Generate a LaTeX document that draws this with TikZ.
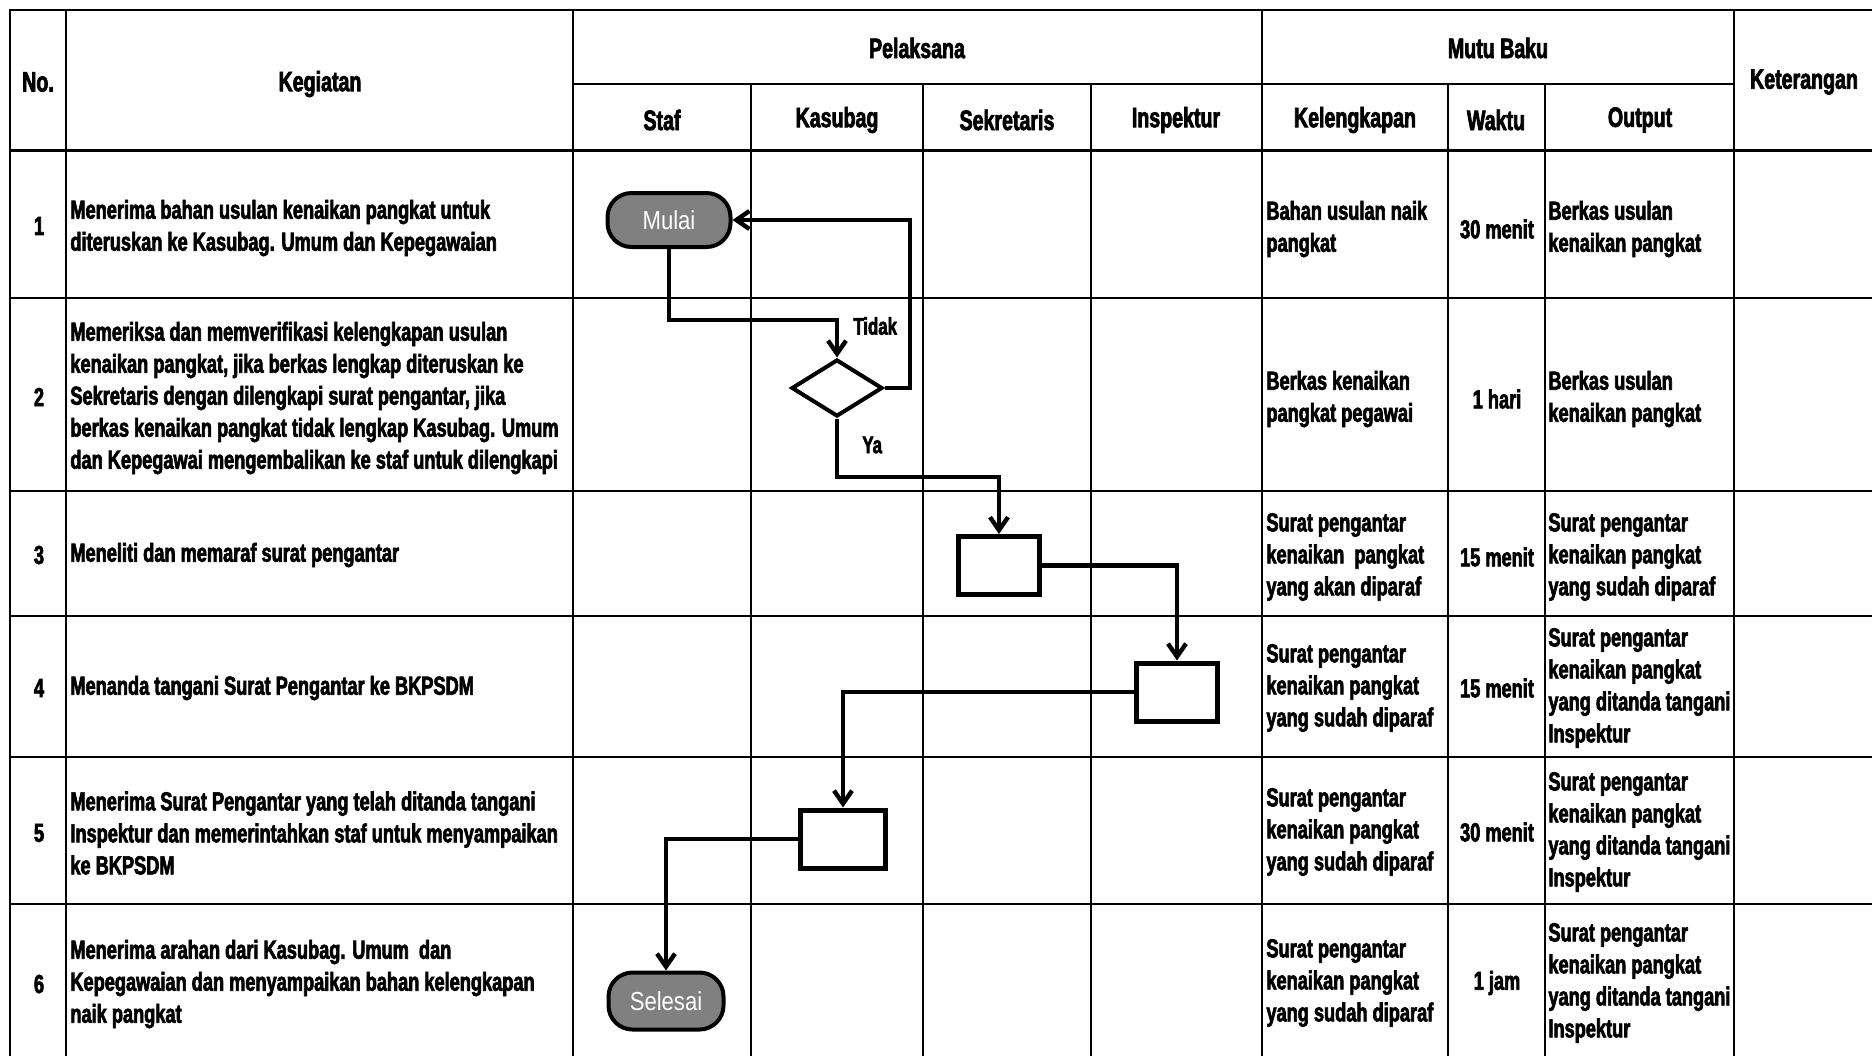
\documentclass[tikz,border=0pt]{standalone}
\usepackage{fontspec}
\setmainfont{Liberation Sans}[FakeStretch=0.7, BoldFeatures={FakeBold=2.5}]
\newfontfamily\lblfont{Liberation Sans}[FakeStretch=0.85]
\usetikzlibrary{arrows.meta,shapes.geometric}
\definecolor{termgray}{RGB}{128,128,128}
\begin{document}
\begin{tikzpicture}[x=0.5pt,y=-0.5pt,
  grid/.style={line width=1pt, black},
  hdr/.style={font=\fontsize{14}{17}\selectfont\bfseries, inner sep=0},
  cell/.style={font=\fontsize{13}{16}\selectfont\bfseries, inner sep=0, align=left, anchor=west},
  num/.style={font=\fontsize{13}{16}\selectfont\bfseries, inner sep=0},
  term/.style={draw=black, line width=2pt, fill=termgray, rounded corners=12pt, text=white, font=\lblfont\fontsize{13}{15}\selectfont, inner sep=0},
  proc/.style={draw=black, line width=2.5pt, fill=white, minimum width=40.5pt, minimum height=29pt, inner sep=0},
  dec/.style={diamond, draw=black, line width=2pt, fill=white, minimum width=45.5pt, minimum height=28.5pt, inner sep=0},
  flow/.style={line width=2.2pt, -{Straight Barb[length=6.5pt,width=9pt]}},
  lbl/.style={font=\fontsize{12}{14}\selectfont\bfseries, inner sep=0, anchor=west}
]
\fill[white] (0,0) rectangle (1872,1056);
\useasboundingbox (0,0) rectangle (1872,1056);

% grid
\draw[grid] (9.5,1056) -- (9.5,9.5) -- (1872,9.5);
\foreach \yy in {298,491,616,757,904} \draw[grid] (9.5,\yy) -- (1872,\yy);
\draw[line width=1.5pt] (9.5,150) -- (1872,150);
\draw[grid] (573,84) -- (1734,84);
\foreach \xx in {66,573,1262,1734} \draw[grid] (\xx,9.5) -- (\xx,1056);
\foreach \xx in {751,923,1091,1448,1545} \draw[grid] (\xx,84) -- (\xx,1056);

% headers
\node[hdr] (hno) at (38,82) {No.};
\node[hdr] (hkeg) at (320,84) {Kegiatan};
\node[hdr] (hpel) at (917,48) {Pelaksana};
\node[hdr] (hstaf) at (662,120) {Staf};
\node[hdr] (hkas) at (837,120) {Kasubag};
\node[hdr] (hsek) at (1007,120) {Sekretaris};
\node[hdr] (hins) at (1176,120) {Inspektur};
\node[hdr] (hmutu) at (1498,48) {Mutu Baku};
\node[hdr] (hkel) at (1355,120) {Kelengkapan};
\node[hdr] (hwak) at (1496,120) {Waktu};
\node[hdr] (hout) at (1640,120) {Output};
\node[hdr] (hket) at (1804,82) {Keterangan};

% numbers
\node[num] (n1) at (39,226) {1};
\node[num] (n2) at (39,397) {2};
\node[num] (n3) at (39,555) {3};
\node[num] (n4) at (39,688) {4};
\node[num] (n5) at (39,833) {5};
\node[num] (n6) at (39,984) {6};

% kegiatan
\node[cell] (k1) at (70,228) {Menerima bahan usulan kenaikan pangkat untuk\\diteruskan ke Kasubag. Umum dan Kepegawaian};
\node[cell] (k2) at (70,398) {Memeriksa dan memverifikasi kelengkapan usulan\\kenaikan pangkat, jika berkas lengkap diteruskan ke\\Sekretaris dengan dilengkapi surat pengantar, jika\\berkas kenaikan pangkat tidak lengkap Kasubag. Umum\\dan Kepegawai mengembalikan ke staf untuk dilengkapi};
\node[cell] (k3) at (70,555) {Meneliti dan memaraf surat pengantar};
\node[cell] (k4) at (70,688) {Menanda tangani Surat Pengantar ke BKPSDM};
\node[cell] (k5) at (70,833) {Menerima Surat Pengantar yang telah ditanda tangani\\Inspektur dan memerintahkan staf untuk menyampaikan\\ke BKPSDM};
\node[cell] (k6) at (70,984) {Menerima arahan dari Kasubag. Umum\ \ dan\\Kepegawaian dan menyampaikan bahan kelengkapan\\naik pangkat};

% kelengkapan
\node[cell] (l1) at (1266,229) {Bahan usulan naik\\pangkat};
\node[cell] (l2) at (1266,399) {Berkas kenaikan\\pangkat pegawai};
\node[cell] (l3) at (1266,557) {Surat pengantar\\kenaikan\ \ pangkat\\yang akan diparaf};
\node[cell] (l4) at (1266,688) {Surat pengantar\\kenaikan pangkat\\yang sudah diparaf};
\node[cell] (l5) at (1266,832) {Surat pengantar\\kenaikan pangkat\\yang sudah diparaf};
\node[cell] (l6) at (1266,983) {Surat pengantar\\kenaikan pangkat\\yang sudah diparaf};

% waktu
\node[num] (w1) at (1497,229) {30 menit};
\node[num] (w2) at (1497,399) {1 hari};
\node[num] (w3) at (1497,557) {15 menit};
\node[num] (w4) at (1497,688) {15 menit};
\node[num] (w5) at (1497,832) {30 menit};
\node[num] (w6) at (1497,983) {1 jam};

% output
\node[cell] (o1) at (1548,229) {Berkas usulan\\kenaikan pangkat};
\node[cell] (o2) at (1548,399) {Berkas usulan\\kenaikan pangkat};
\node[cell] (o3) at (1548,557) {Surat pengantar\\kenaikan pangkat\\yang sudah diparaf};
\node[cell] (o4) at (1548,688) {Surat pengantar\\kenaikan pangkat\\yang ditanda tangani\\Inspektur};
\node[cell] (o5) at (1548,832) {Surat pengantar\\kenaikan pangkat\\yang ditanda tangani\\Inspektur};
\node[cell] (o6) at (1548,983) {Surat pengantar\\kenaikan pangkat\\yang ditanda tangani\\Inspektur};

% flow shapes
\node[term, minimum width=61.5pt, minimum height=27pt] (m) at (669,220) {Mulai};
\node[term, minimum width=57.5pt, minimum height=28.5pt] (s) at (666,1001) {Selesai};
\node[dec] (d) at (837,388) {};
\node[proc] (b3) at (999,565.5) {};
\node[proc] (b4) at (1177,692) {};
\node[proc, minimum width=42.5pt] (b5) at (843,839) {};

\coordinate (y1) at (0,320);
\coordinate (x1) at (910,0);
\coordinate (y2) at (0,477);

\draw[flow] (m.south) -- (m.south |- y1) -| (d.north);
\draw[flow] (d.east) -- (d.east -| x1) |- (m.east);
\draw[flow] (d.south) -- (d.south |- y2) -| (b3.north);
\draw[flow] (b3.east) -| (b4.north);
\draw[flow] (b4.west) -| (b5.north);
\draw[flow] (b5.west) -| (s.north);

\node[lbl] (tidak) at (853,326) {Tidak};
\node[lbl] (ya) at (862,445) {Ya};
\end{tikzpicture}
\end{document}
